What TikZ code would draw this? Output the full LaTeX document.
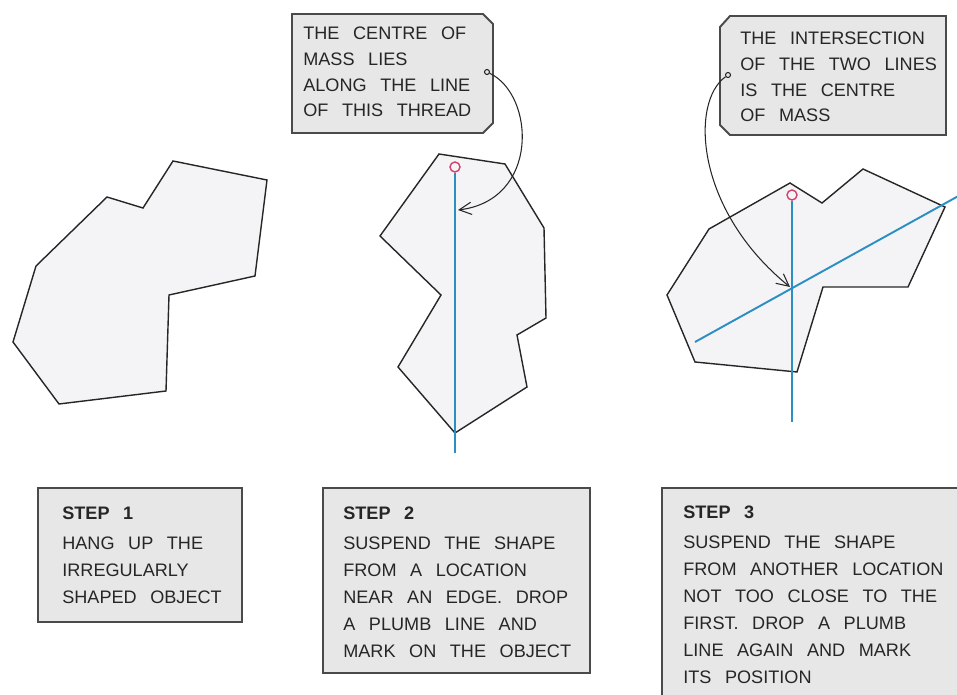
\documentclass[tikz,border=0pt]{standalone}
\usepackage{fontspec}
\setmainfont{Liberation Sans}[WordSpace=2.7]
\usetikzlibrary{arrows.meta}
\definecolor{plumbblue}{HTML}{2C8FC4}
\definecolor{markred}{HTML}{D2406E}
\definecolor{framegrey}{HTML}{4A4A4A}
\definecolor{cardfill}{HTML}{E7E7E7}
\definecolor{laminafill}{HTML}{F4F4F6}
\definecolor{inkgrey}{HTML}{262626}
\tikzset{
  lamina/.style={draw=inkgrey, line width=0.8pt, fill=laminafill, line join=miter},
  plumb/.style={draw=plumbblue, line width=1.1pt},
  holemark/.style={circle, draw=markred, line width=0.8pt, inner sep=0pt, minimum size=0.2cm},
  card/.style={draw=framegrey, line width=1.1pt, fill=cardfill},
  cardpin/.style={circle, draw=inkgrey, line width=0.6pt, fill=cardfill, inner sep=0pt, minimum size=0.1cm},
  pointer/.style={draw=inkgrey, line width=0.6pt, -{Straight Barb[length=7pt, width=7pt]}},
  tagtext/.style={anchor=north west, inner sep=0pt, align=left, text=inkgrey,
    font=\fontsize{10.3pt}{14.6pt}\selectfont},
  steptext/.style={anchor=north west, inner sep=0pt, align=left, text=inkgrey,
    font=\fontsize{10.3pt}{15.3pt}\selectfont}
}
\begin{document}
\begin{tikzpicture}[x=0.02cm, y=-0.02cm]

  \clip (0,0) rectangle (957,695);

  % step 1: the bare object
  \draw[lamina] (173,161) -- (267,180) -- (255,276) -- (169,295) -- (166,391)
    -- (59,404) -- (13,342) -- (36,266) -- (107,197) -- (143,208) -- cycle;

  % step 2: hung from one point
  \draw[lamina] (439,154) -- (505,164) -- (544,228) -- (546,318) -- (517,335)
    -- (527,387) -- (455,433) -- (398,367) -- (441,295) -- (380,236) -- cycle;
  \node[holemark] (hole2) at (455,167) {};
  \coordinate (foot2) at (455,453);
  \draw[plumb] (hole2) -- (foot2);

  % step 3: hung from a second point
  \draw[lamina] (790,183) -- (822,203) -- (863,169) -- (945,207) -- (908,287)
    -- (823,287) -- (797,372) -- (695,362) -- (667,295) -- (709,229) -- cycle;
  \node[holemark] (hole3) at (792,195) {};
  \coordinate (foot3) at (792,422);
  \coordinate (left3) at (695,342);
  \coordinate (right3) at (962,194);
  \draw[plumb] (hole3) -- (foot3);
  \draw[plumb] (left3) -- (right3);

  % remark cards
  \draw[card] (292,14) -- (483,14) -- (493,24) -- (493,123) -- (483,133)
    -- (292,133) -- cycle;
  \node[tagtext] (remark1) at (303,27) {THE CENTRE OF\\MASS LIES\\ALONG THE LINE\\OF THIS THREAD};
  \node[cardpin] (pin1) at (487,72) {};
  \coordinate (tip1) at (458,210);
  \draw[pointer] (pin1) .. controls (535,95) and (540,200) .. (tip1);

  \draw[card] (730,16) -- (946,16) -- (946,135) -- (730,135) -- (720,125)
    -- (720,27) -- cycle;
  \node[tagtext] (remark2) at (740,32) {THE INTERSECTION\\OF THE TWO LINES\\IS THE CENTRE\\OF MASS};
  \node[cardpin] (pin2) at (728,75) {};
  \coordinate (tip2) at (790,287);
  \draw[pointer] (pin2) .. controls (690,102) and (695,210) .. (tip2);

  % step frames
  \foreach \xa/\ya/\xb/\yb in {38/488/242/622, 323/488/590/673, 662/488/968/705}{
    \draw[card] (\xa,\ya) rectangle (\xb,\yb);
  }
  \node[steptext] (step1) at (62,507) {\textbf{STEP 1}\\[1.7pt]HANG UP THE\\IRREGULARLY\\SHAPED OBJECT};
  \node[steptext] (step2) at (343,507) {\textbf{STEP 2}\\[1.7pt]SUSPEND THE SHAPE\\FROM A LOCATION\\NEAR AN EDGE. DROP\\A PLUMB LINE AND\\MARK ON THE OBJECT};
  \node[steptext] (step3) at (683,506) {\textbf{STEP 3}\\[1.7pt]SUSPEND THE SHAPE\\FROM ANOTHER LOCATION\\NOT TOO CLOSE TO THE\\FIRST. DROP A PLUMB\\LINE AGAIN AND MARK\\ITS POSITION};

\end{tikzpicture}
\end{document}
